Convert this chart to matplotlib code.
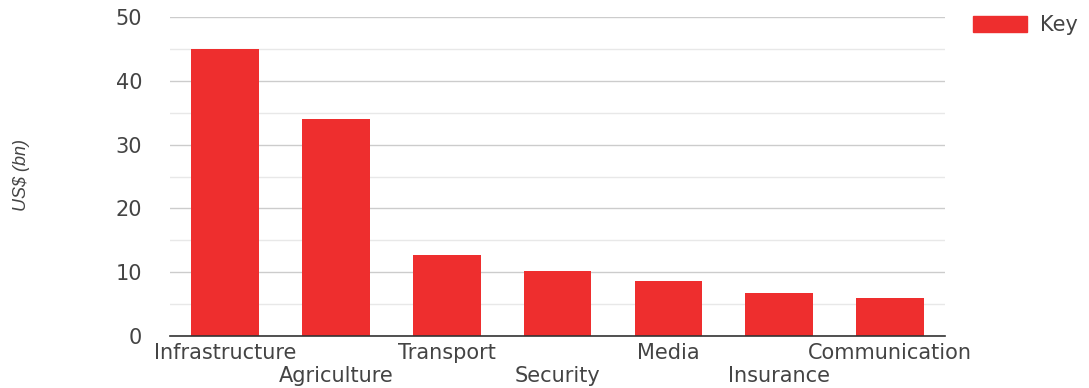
import matplotlib
matplotlib.use("Agg")
import matplotlib.pyplot as plt
from matplotlib.patches import Patch
from matplotlib.ticker import MultipleLocator

plt.rcParams["font.family"] = ["DejaVu Sans"]

categories = ["Infrastructure", "Agriculture", "Transport", "Security",
              "Media", "Insurance", "Communication"]
values = [45.0, 34.0, 12.7, 10.2, 8.6, 6.7, 6.0]

RED = "#ee2e2e"
TXT = "#444444"
FS = 15

fig = plt.figure(figsize=(10.89, 3.88), dpi=100)
ax = fig.add_axes([0.156, 0.134, 0.712, 0.822])

x = list(range(len(categories)))
ax.bar(x, values, width=0.61, color=RED, zorder=3)

ax.set_xlim(-0.5, len(categories) - 0.5)
ax.set_ylim(0, 50)
ax.yaxis.set_major_locator(MultipleLocator(10))
ax.yaxis.set_minor_locator(MultipleLocator(5))
ax.grid(True, which="major", axis="y", color="#cccccc", lw=1, zorder=0)
ax.grid(True, which="minor", axis="y", color="#e8e8e8", lw=1, zorder=0)

for s in ("top", "right", "left"):
    ax.spines[s].set_visible(False)
ax.spines["bottom"].set_color("#333333")
ax.spines["bottom"].set_linewidth(1.2)
ax.spines["bottom"].set_zorder(4)

# staggered category labels: even ones on first row, odd ones on second
ax.set_xticks(x[0::2])
ax.set_xticklabels(categories[0::2], fontsize=FS, color=TXT)
ax.tick_params(axis="x", length=0, pad=5)

sec = ax.secondary_xaxis("bottom")
sec.set_xticks(x[1::2])
sec.set_xticklabels(categories[1::2], fontsize=FS, color=TXT)
sec.tick_params(axis="x", length=0, pad=21.5)
sec.spines["bottom"].set_visible(False)

ax.tick_params(axis="y", which="both", length=0, pad=20, labelsize=FS,
               labelcolor=TXT)

fig.text(0.02, 0.55, "US$ (bn)", rotation=90, style="italic", fontsize=13,
         color=TXT, ha="center", va="center",
         family=["Liberation Sans Narrow", "Liberation Sans"])

ax.legend(handles=[Patch(color=RED, label="Key")], loc="upper left",
          bbox_to_anchor=(1.036, 1.005), frameon=False, fontsize=FS,
          borderaxespad=0, borderpad=0,
          handlelength=2.6, handleheight=0.78, handletextpad=0.6,
          labelcolor=TXT)

fig.savefig("out.png", dpi=100)
